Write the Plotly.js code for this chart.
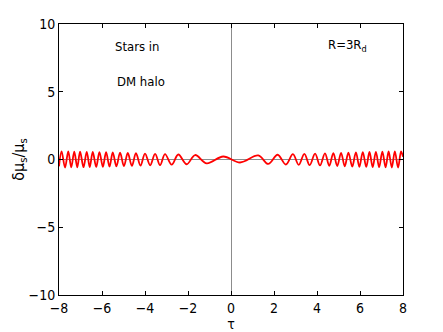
<!DOCTYPE html>
<html>
<head>
<meta charset="utf-8">
<script src="https://cdn.plot.ly/plotly-3.0.1.min.js"></script>
<style>
  html, body { margin: 0; padding: 0; background: #fff; }
  #plot { width: 443px; height: 332px; }
</style>
</head>
<body>
<div id="plot"></div>
<script>
// extrema of the oscillation (tau, delta mu_s / mu_s)
var tau = [
  -8.00, -7.88, -7.72, -7.57, -7.43, -7.29, -7.15, -7.02, -6.86, -6.71,
  -6.57, -6.43, -6.27, -6.12, -5.96, -5.81, -5.65, -5.50, -5.33, -5.16,
  -4.98, -4.80, -4.61, -4.42, -4.21, -4.00, -3.76, -3.53, -3.30, -3.07,
  -2.76, -2.45, -2.06, -1.67, -1.13, -0.36,
  0.42, 1.27, 1.73, 2.17, 2.55, 2.88, 3.15, 3.41, 3.66, 3.91,
  4.14, 4.37, 4.57, 4.76, 4.94, 5.12, 5.29, 5.46, 5.64, 5.81,
  5.97, 6.13, 6.29, 6.44, 6.59, 6.74, 6.89, 7.04, 7.19, 7.33,
  7.48, 7.62, 7.77, 7.91, 8.00
];
var dmu = [
  -0.50, 0.60, -0.60, 0.60, -0.58, 0.58, -0.58, 0.58, -0.57, 0.57,
  -0.56, 0.56, -0.55, 0.55, -0.54, 0.54, -0.53, 0.52, -0.51, 0.50,
  -0.49, 0.48, -0.47, 0.46, -0.45, 0.44, -0.43, 0.42, -0.41, 0.40,
  -0.38, 0.37, -0.35, 0.33, -0.28, 0.22,
  -0.22, 0.30, -0.33, 0.35, -0.37, 0.39, -0.40, 0.41, -0.42, 0.43,
  -0.44, 0.45, -0.46, 0.47, -0.48, 0.49, -0.50, 0.51, -0.52, 0.53,
  -0.54, 0.55, -0.55, 0.56, -0.56, 0.57, -0.57, 0.58, -0.58, 0.59,
  -0.59, 0.60, -0.60, 0.60, 0.20
];
var xticks = [-8, -6, -4, -2, 0, 2, 4, 6, 8];
var yticks = [-10, -5, 0, 5, 10];

var font = 'Liberation Sans Narrow, DejaVu Sans Condensed, Arial, sans-serif';

var curve = {
  x: tau,
  y: dmu,
  mode: 'lines',
  type: 'scatter',
  line: {color: '#ff0000', width: 1.8, shape: 'spline', smoothing: 1},
  showlegend: false
};

var axis = {
  showgrid: false,
  zeroline: true,
  zerolinecolor: '#8c8c8c',
  zerolinewidth: 1,
  showline: true,
  linecolor: '#000',
  linewidth: 1,
  mirror: 'ticks',
  ticks: 'inside',
  ticklen: 4,
  tickcolor: '#000',
  tickfont: {family: font, size: 14, color: '#000'}
};

var layout = {
  width: 443,
  height: 332,
  margin: {l: 59, r: 40, t: 24, b: 37},
  paper_bgcolor: '#fff',
  plot_bgcolor: '#fff',
  font: {family: font, size: 14, color: '#000'},
  xaxis: Object.assign({}, axis, {
    range: [-8, 8],
    tickvals: xticks,
    title: {text: 'τ', standoff: 4, font: {family: font, size: 14}}
  }),
  yaxis: Object.assign({}, axis, {
    range: [-10, 10],
    tickvals: yticks,
    title: {text: 'δμ<sub>s</sub>/μ<sub>s</sub>', standoff: 0, font: {family: font, size: 16}}
  }),
  annotations: [
    {x: -4.39, y: 8.32, text: 'Stars in', showarrow: false, font: {family: font, size: 13}},
    {x: -4.19, y: 5.74, text: 'DM halo', showarrow: false, font: {family: font, size: 13}},
    {x: 5.44, y: 8.4, text: 'R=3R<sub>d</sub>', showarrow: false, font: {family: font, size: 13}}
  ]
};

Plotly.newPlot('plot', [curve], layout, {staticPlot: true, displayModeBar: false});
</script>
</body>
</html>
